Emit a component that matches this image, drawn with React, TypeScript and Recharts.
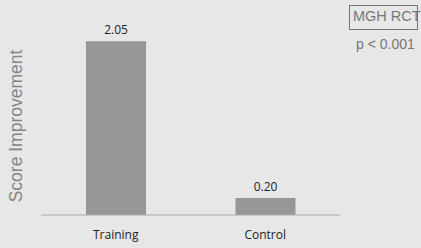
import { BarChart, Bar, XAxis, YAxis, LabelList } from "recharts";

// ── Data ────────────────────────────────────────────────────────────────────

const groups = ["Training", "Control"];
const improvement = [2.05, 0.2];
const yLabel = "Score Improvement";
const studyTag = "MGH RCT";
const pValue = "p < 0.001";

const data = groups.map((name, i) => ({ name, value: improvement[i] }));

const BG = "#e7e7e7";
const BAR = "#979797";
const MUTED = "#777";

function YLabel(props: any) {
  const { viewBox } = props;
  const cx = viewBox.x + 16;
  const cy = 126;
  return (
    <text
      x={cx}
      y={cy}
      transform={`rotate(-90, ${cx}, ${cy})`}
      textAnchor="middle"
      dominantBaseline="central"
      fontFamily="'Liberation Sans', Arial, sans-serif"
      fontSize={17.5}
      fill="#858585"
    >
      {yLabel}
    </text>
  );
}

export default function App() {
  return (
    <div
      style={{
        position: "absolute",
        top: 0,
        left: 0,
        width: 421,
        height: 248,
        background: BG,
        overflow: "hidden",
      }}
    >
      <BarChart
        width={421}
        height={248}
        data={data}
        margin={{ top: 3, right: 81, bottom: 13, left: 0 }}
        barSize={60}
      >
        <YAxis
          domain={[0, 2.5]}
          width={41}
          tick={false}
          axisLine={false}
          tickLine={false}
          label={<YLabel />}
        />
        <XAxis
          dataKey="name"
          height={20}
          axisLine={{ stroke: "#ababab", strokeWidth: 1 }}
          tickLine={false}
          tickSize={0}
          tickMargin={15}
          tick={{ fontSize: 12, fill: "#222", fontFamily: "'Open Sans', sans-serif" }}
        />
        <Bar dataKey="value" fill={BAR} isAnimationActive={false}>
          <LabelList
            dataKey="value"
            position="top"
            offset={7}
            formatter={(v: any) => Number(v).toFixed(2)}
            style={{ fontSize: 12, fill: "#222", fontFamily: "'Open Sans', sans-serif" }}
          />
        </Bar>
      </BarChart>

      {/* study tag box: the text overruns its right border, as in the source */}
      <div
        style={{
          position: "absolute",
          left: 349,
          top: 5,
          width: 67,
          height: 23,
          border: `1px solid ${MUTED}`,
          boxSizing: "content-box",
        }}
      />
      <div
        style={{
          position: "absolute",
          left: 353,
          top: 8,
          whiteSpace: "nowrap",
          fontFamily: "'Liberation Sans', Arial, sans-serif",
          fontSize: 14.5,
          lineHeight: "17px",
          color: MUTED,
        }}
      >
        {studyTag}
      </div>
      <div
        style={{
          position: "absolute",
          left: 356,
          top: 36,
          whiteSpace: "nowrap",
          fontFamily: "'Liberation Sans', Arial, sans-serif",
          fontSize: 14,
          lineHeight: "16px",
          color: MUTED,
        }}
      >
        {pValue}
      </div>
    </div>
  );
}
